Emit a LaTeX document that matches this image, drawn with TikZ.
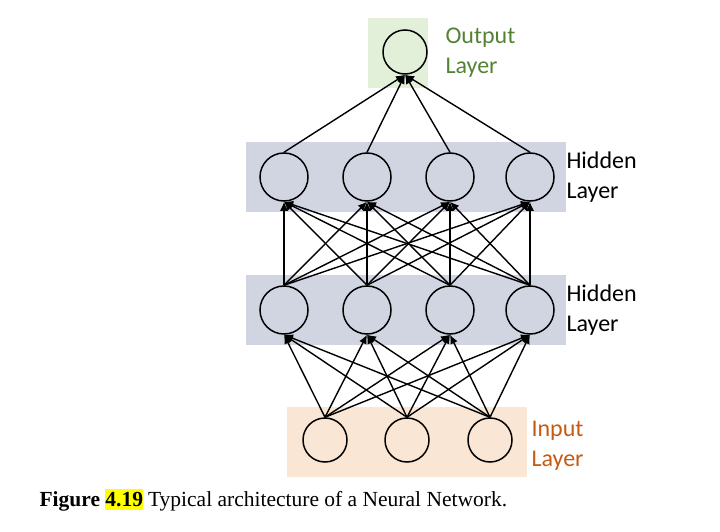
\documentclass[tikz,border=0pt]{standalone}
\usepackage{fontspec}
\setmainfont{Liberation Serif}
\newfontfamily\labelfont{Carlito}
\usetikzlibrary{arrows.meta}
\definecolor{hidfill}{RGB}{209,213,225}
\definecolor{outfill}{RGB}{226,239,217}
\definecolor{infill}{RGB}{250,230,212}
\definecolor{outtext}{RGB}{84,130,53}
\definecolor{intext}{RGB}{197,90,17}
\definecolor{hilite}{RGB}{255,255,0}
\begin{document}
\begin{tikzpicture}[x=1pt,y=-1pt]
\tikzset{neuron/.style={circle,draw=black,line width=1.5pt,minimum size=44pt,inner sep=0pt},
  link/.style={line width=1.4pt,-{Latex[length=9pt,width=8pt]}},
  layertext/.style={anchor=west,align=left,font=\labelfont\fontsize{24}{30}\selectfont}}
\useasboundingbox (0,0) rectangle (720,532);
% layer bands
\fill [outfill] (368,18) rectangle (428,88);
\fill [hidfill] (246,142) rectangle (566,212);
\fill [hidfill] (246,275) rectangle (566,345);
\fill [infill] (287,407) rectangle (527,477);
% neurons
\node [neuron,fill=outfill] (o) at (405,52) {};
\foreach \x [count=\i] in {284,367,450,530} {
  \node [neuron,fill=hidfill,minimum size=48pt] (b\i) at (\x,177) {};
  \node [neuron,fill=hidfill,minimum size=48pt] (a\i) at (\x,310) {};
}
\foreach \x [count=\i] in {325,407,490}
  \node [neuron,fill=infill] (in\i) at (\x,440) {};
% connections
\foreach \i in {1,2,3}
  \foreach \j in {1,...,4}
    \draw [link] (in\i.north) -- (a\j.south);
\foreach \i in {1,...,4}
  \foreach \j in {1,...,4}
    \draw [link] (a\i.north) -- (b\j.south);
\foreach \i in {1,...,4}
  \draw [link] (b\i.north) -- (o.south);
% labels
\node [layertext,text=outtext] (tout) at (442,53) {Output\\Layer};
\node [layertext] (thid2) at (563,177) {Hidden\\Layer};
\node [layertext] (thid1) at (563,310) {Hidden\\Layer};
\node [layertext,text=intext] (tin) at (528,446) {Input\\Layer};
\node [anchor=west,font=\fontsize{21.5}{24}\selectfont] (cap) at (36,500)
  {\textbf{Figure} \colorbox{hilite}{\hspace*{-3pt}\textbf{4.19}\hspace*{-3pt}}\hspace{5pt}Typical architecture of a Neural Network.};
\end{tikzpicture}
\end{document}
